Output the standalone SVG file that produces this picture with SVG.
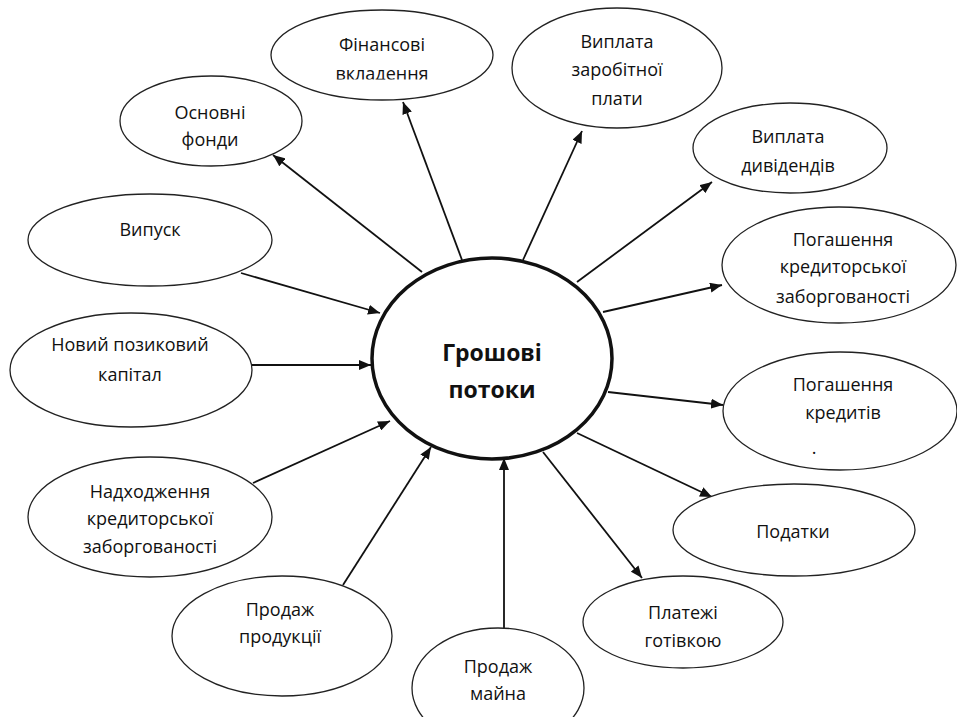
<svg xmlns="http://www.w3.org/2000/svg" width="957" height="717" viewBox="0 0 957 717">
<style>
.n{fill:#fff;stroke:#222;stroke-width:1.3}
.t{font-family:"Open Sans","Noto Sans",sans-serif;font-size:18px;fill:#111;text-anchor:middle}
.c{fill:none;stroke:#111;stroke-width:1.8}
.b{font-family:"Open Sans","Noto Sans",sans-serif;font-size:23px;font-weight:bold;fill:#111;text-anchor:middle}
</style>
<defs>
<marker id="ah" markerUnits="userSpaceOnUse" markerWidth="12" markerHeight="10" refX="12" refY="5" orient="auto">
<path d="M0,0 L12,5 L0,10 z" fill="#111"/>
</marker>
<clipPath id="clipFin"><rect x="260" y="0" width="250" height="79.5"/></clipPath>
</defs>
<g id="connectors">
<line class="c" x1="422" y1="272" x2="273" y2="155" marker-end="url(#ah)"/>
<line class="c" x1="462" y1="260" x2="403" y2="102" marker-end="url(#ah)"/>
<line class="c" x1="523" y1="260" x2="582" y2="131" marker-end="url(#ah)"/>
<line class="c" x1="577" y1="282" x2="712" y2="182" marker-end="url(#ah)"/>
<line class="c" x1="603" y1="312" x2="722" y2="285" marker-end="url(#ah)"/>
<line class="c" x1="608" y1="392" x2="723" y2="405" marker-end="url(#ah)"/>
<line class="c" x1="577" y1="433" x2="712" y2="497" marker-end="url(#ah)"/>
<line class="c" x1="543" y1="452" x2="642" y2="578" marker-end="url(#ah)"/>
<line class="c" x1="241" y1="273" x2="380" y2="313" marker-end="url(#ah)"/>
<line class="c" x1="252" y1="365" x2="371" y2="365" marker-end="url(#ah)"/>
<line class="c" x1="253" y1="483" x2="390" y2="421" marker-end="url(#ah)"/>
<line class="c" x1="343" y1="585" x2="431" y2="447" marker-end="url(#ah)"/>
<line class="c" x1="504" y1="628" x2="504" y2="458" marker-end="url(#ah)"/>
</g>
<g id="center">
<ellipse cx="492" cy="358.5" rx="120" ry="100.5" fill="#fff" stroke="#111" stroke-width="3.5"/>
<text class="b" x="492" y="361">Грошові</text>
<text class="b" x="492" y="398">потоки</text>
</g>
<g id="osnovni">
<ellipse class="n" cx="211" cy="121" rx="91" ry="45"/>
<text class="t" x="210" y="119">Основні</text>
<text class="t" x="210" y="146">фонди</text>
</g>
<g id="finansovi">
<ellipse class="n" cx="382" cy="55" rx="111" ry="45"/>
<text class="t" x="382" y="51">Фінансові</text>
<text class="t" x="382" y="79.5" clip-path="url(#clipFin)">вкладення</text>
</g>
<g id="zarplata">
<ellipse class="n" cx="617" cy="68" rx="105" ry="60"/>
<text class="t" x="617" y="48">Виплата</text>
<text class="t" x="617" y="76">заробітної</text>
<text class="t" x="617" y="105">плати</text>
</g>
<g id="dyvidendy">
<ellipse class="n" cx="790" cy="148" rx="97" ry="45"/>
<text class="t" x="788" y="143">Виплата</text>
<text class="t" x="788" y="172">дивідендів</text>
</g>
<g id="pogash_kred_zab">
<ellipse class="n" cx="839" cy="265" rx="117" ry="58"/>
<text class="t" x="843" y="246">Погашення</text>
<text class="t" x="843" y="273">кредиторської</text>
<text class="t" x="843" y="303">заборгованості</text>
</g>
<g id="pogash_kredytiv">
<ellipse class="n" cx="840" cy="411" rx="117" ry="59"/>
<text class="t" x="843" y="391">Погашення</text>
<text class="t" x="843" y="419">кредитів</text>
<text class="t" x="814" y="454">.</text>
</g>
<g id="podatky">
<ellipse class="n" cx="794" cy="530" rx="121" ry="46"/>
<text class="t" x="793" y="538">Податки</text>
</g>
<g id="platezhi">
<ellipse class="n" cx="683" cy="622" rx="100" ry="46"/>
<text class="t" x="683" y="619">Платежі</text>
<text class="t" x="683" y="647">готівкою</text>
</g>
<g id="prodazh_mayna">
<ellipse class="n" cx="498" cy="688" rx="86" ry="60"/>
<text class="t" x="498" y="673">Продаж</text>
<text class="t" x="498" y="700">майна</text>
</g>
<g id="prodazh_produktsii">
<ellipse class="n" cx="282" cy="636" rx="110" ry="60"/>
<text class="t" x="280" y="616">Продаж</text>
<text class="t" x="280" y="643">продукції</text>
</g>
<g id="nadkhodzhennia">
<ellipse class="n" cx="150" cy="517" rx="122" ry="60"/>
<text class="t" x="150" y="498">Надходження</text>
<text class="t" x="150" y="525">кредиторської</text>
<text class="t" x="150" y="553">заборгованості</text>
</g>
<g id="novyi">
<ellipse class="n" cx="131" cy="370" rx="121" ry="57"/>
<text class="t" x="130" y="351">Новий позиковий</text>
<text class="t" x="130" y="381">капітал</text>
</g>
<g id="vypusk">
<ellipse class="n" cx="150" cy="240" rx="122" ry="46"/>
<text class="t" x="150" y="236">Випуск</text>
</g>
</svg>
